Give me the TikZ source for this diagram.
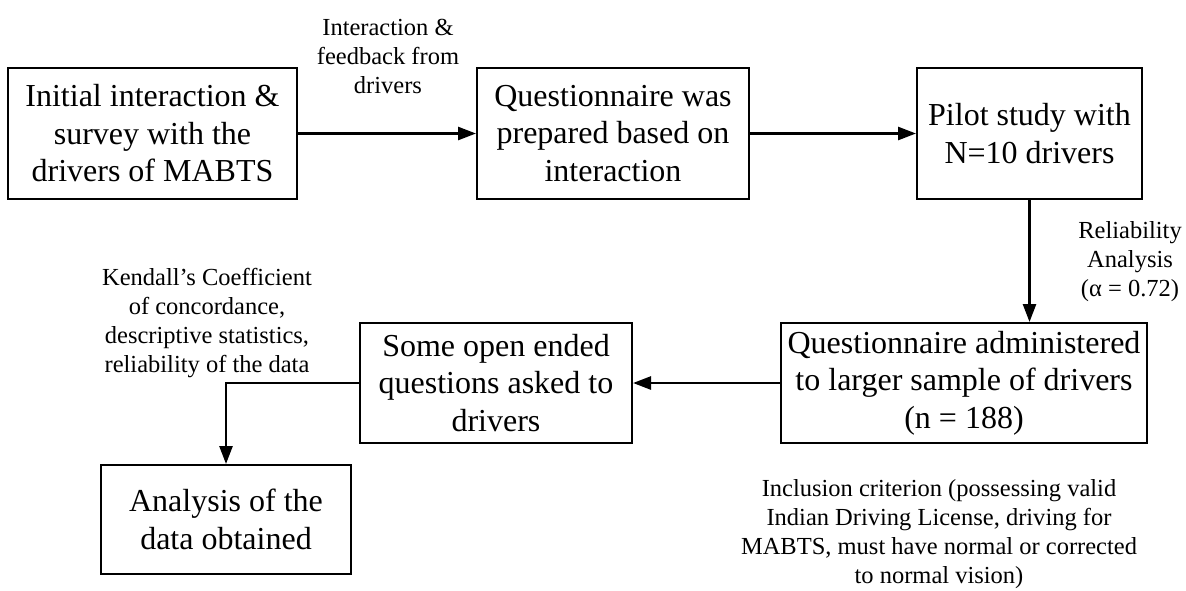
\documentclass[tikz,border=0pt]{standalone}
\usepackage{fontspec}
\setmainfont{Liberation Serif}
\usetikzlibrary{arrows.meta}
\begin{document}
\begin{tikzpicture}[x=0.5pt,y=-0.5pt,
 box/.style={draw, line width=1pt, align=center, font=\fontsize{16}{18.75}\selectfont, inner sep=0pt},
 lbl/.style={align=center, font=\fontsize{12.25}{14.5}\selectfont, inner sep=0pt},
 arr/.style={line width=1.3pt, -{Triangle[length=9pt,width=6.5pt]}}]
\useasboundingbox (0,0) rectangle (1186,590);
\node[box, minimum width=144.5pt, minimum height=65.5pt] (A) at (152.5,133.5) {Initial interaction \&\\survey with the\\drivers of MABTS};
\node[box, minimum width=136pt, minimum height=65.5pt] (B) at (613,133.5) {Questionnaire was\\prepared based on\\interaction};
\node[box, minimum width=112.5pt, minimum height=65.5pt] (C) at (1029.5,133.5) {Pilot study with\\N=10 drivers};
\node[box, minimum width=183pt, minimum height=60pt] (D) at (964,383) {Questionnaire administered\\to larger sample of drivers\\(n = 188)};
\node[box, minimum width=136pt, minimum height=60pt] (E) at (496,383) {Some open ended\\questions asked to\\drivers};
\node[box, minimum width=125pt, minimum height=54.5pt] (F) at (226,519.5) {Analysis of the\\data obtained};
\draw[arr] (A) -- (B);
\draw[arr] (B) -- (C);
\draw[arr] (C.south) -- (C.south |- D.north);
\draw[arr] (D) -- (E);
\draw[arr] (E.west) -| (F.north);
\node[lbl] (l1) at (388,56) {Interaction \&\\feedback from\\drivers};
\node[lbl] (l2) at (1130,262) {Reliability\\Analysis\\(α = 0.72)};
\node[lbl] (l3) at (207,323.5) {Kendall’s Coefficient\\of concordance,\\descriptive statistics,\\reliability of the data};
\node[lbl] (l4) at (939,534) {Inclusion criterion (possessing valid\\Indian Driving License, driving for\\MABTS, must have normal or corrected\\to normal vision)};
\end{tikzpicture}
\end{document}
